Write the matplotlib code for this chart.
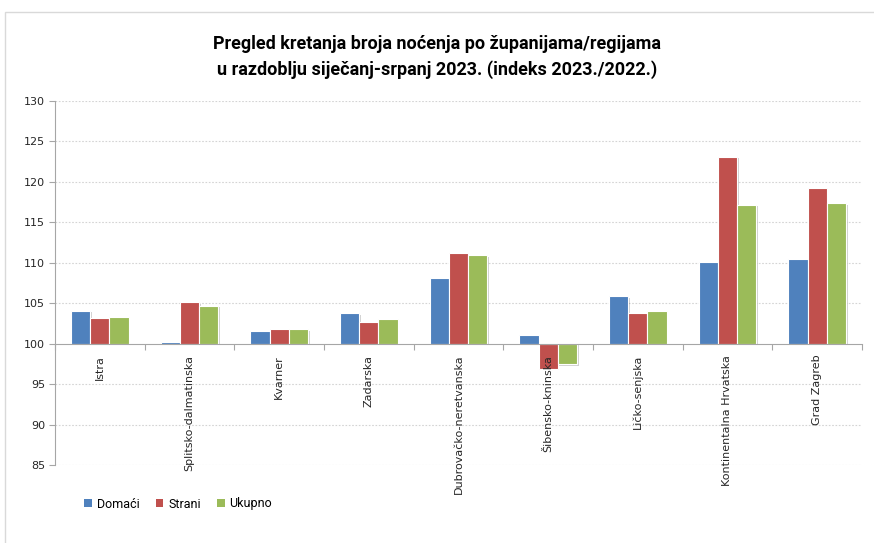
import matplotlib
matplotlib.use("Agg")
import matplotlib.pyplot as plt
from matplotlib.patches import Rectangle, Patch
import matplotlib.patheffects as pe
import numpy as np

categories = ["Istra", "Splitsko-dalmatinska", "Kvarner", "Zadarska",
              "Dubrovačko-neretvanska", "Šibensko-kninska", "Ličko-senjska",
              "Kontinentalna Hrvatska", "Grad Zagreb"]
domaci = [104.1, 100.2, 101.6, 103.8, 108.1, 101.1, 105.9, 110.1, 110.5]
strani = [103.2, 105.1, 101.8, 102.7, 111.2, 96.9, 103.8, 123.1, 119.2]
ukupno = [103.3, 104.7, 101.8, 103.0, 110.9, 97.5, 104.0, 117.2, 117.4]
series_names = ["Domaći", "Strani", "Ukupno"]
colors = ["#4F81BD", "#C0504D", "#9BBB59"]
yticks = [85, 90, 95, 100, 105, 110, 115, 120, 125, 130]
title1 = "Pregled kretanja broja noćenja po županijama/regijama"
title2 = "u razdoblju siječanj-srpanj 2023. (indeks 2023./2022.)"

W, H = 874, 543
fig = plt.figure(figsize=(W / 100, H / 100), dpi=100)
fig.patch.set_facecolor("white")

# chart area border
fig.patches.append(Rectangle((5 / W, -0.05), 1.1, 1 - 12 / H + 0.05,
                             transform=fig.transFigure, fill=False,
                             edgecolor="#D9D9D9", linewidth=1))

ax = fig.add_axes([55 / W, 1 - 465 / H, (862 - 55) / W, (465 - 101) / H])
ax.set_facecolor("white")

x = np.arange(len(categories))
bw = 0.215
base = 100
shadow = [pe.SimplePatchShadow(offset=(1.2, -1.2), shadow_rgbFace="black", alpha=0.18), pe.Normal()]
for i, (vals, c, name) in enumerate(zip([domaci, strani, ukupno], colors, series_names)):
    v = np.array(vals)
    bars = ax.bar(x + (i - 1) * bw, v - base, bottom=base, width=bw, color=c,
                  edgecolor="white", linewidth=0.8, zorder=1, label=name)
    for b in bars:
        b.set_path_effects(shadow)

ax.set_xlim(-0.5, len(categories) - 0.5)
ax.set_ylim(85, 130)

for yv in yticks:
    if yv != 100:
        ax.axhline(yv, color="#D4D4D4", linewidth=0.8, linestyle=(0, (1.5, 1.5)), zorder=0)

for s in ["top", "right"]:
    ax.spines[s].set_visible(False)
ax.spines["left"].set_color("#A6A6A6")
ax.spines["bottom"].set_color("#A6A6A6")
ax.spines["bottom"].set_position(("data", 100))

ax.set_yticks(yticks)
ax.set_yticklabels([str(t) for t in yticks], fontsize=8, color="#262626")
ax.tick_params(axis="y", length=4, width=0.8, color="#A6A6A6", pad=3)

ax.set_xticks(x)
ax.set_xticklabels(categories, rotation=90, fontsize=8, color="#262626", va="top")
ax.tick_params(axis="x", which="major", length=0, pad=8)
ax.set_xticks(np.arange(-0.5, len(categories), 1.0), minor=True)
ax.tick_params(axis="x", which="minor", length=4, width=0.8, color="#A6A6A6", direction="out")

fam = ["Roboto", "DejaVu Sans"]
fig.text(0.5, 1 - 44 / H, title1, ha="center", va="center", fontsize=13,
         fontweight="bold", family=fam, color="black")
fig.text(0.5, 1 - 70 / H, title2, ha="center", va="center", fontsize=13,
         fontweight="bold", family=fam, color="black")

handles = [Patch(facecolor=c, edgecolor="none") for c in colors]
fig.legend(handles, series_names, loc="center left",
           bbox_to_anchor=(73 / W, 1 - 504 / H), ncol=3, frameon=False,
           handlelength=0.6, handleheight=0.6, handletextpad=0.4,
           columnspacing=1.3, prop={"family": fam, "size": 9})

fig.savefig("out.png", dpi=100, facecolor="white")
